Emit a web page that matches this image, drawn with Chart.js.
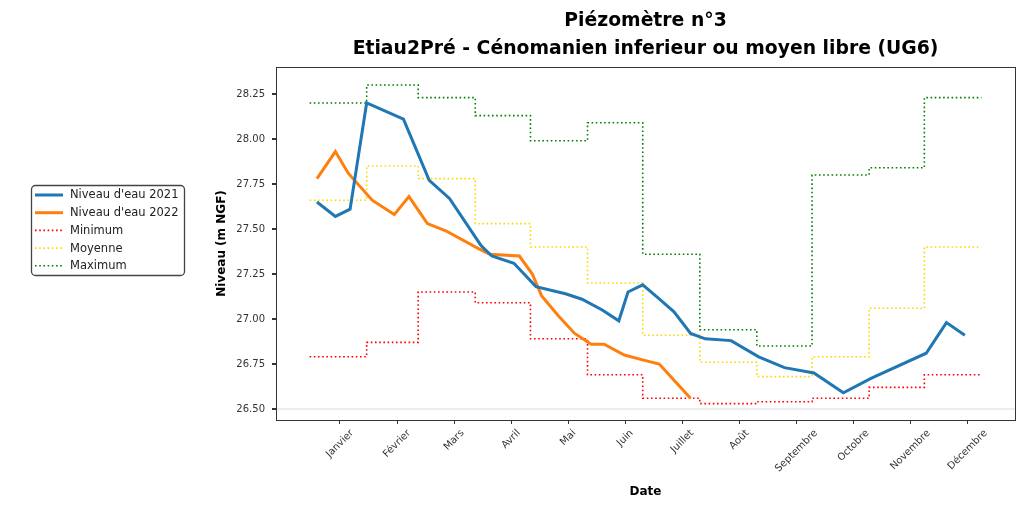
<!DOCTYPE html>
<html>
<head>
<meta charset="utf-8">
<script src="https://cdn.jsdelivr.net/npm/chart.js@4.4.0/dist/chart.umd.min.js"></script>
<style>
  body { margin: 0; background: #fff; }
  #wrap { width: 1034px; height: 508px; }
</style>
</head>
<body>
<div id="wrap"><canvas id="chart" width="1034" height="508"></canvas></div>
<script>
// day of year (1 Jan = 0)
const months = ['Janvier', 'Février', 'Mars', 'Avril', 'Mai', 'Juin', 'Juillet', 'Août',
  'Septembre', 'Octobre', 'Novembre', 'Décembre'];
const monthTicks = [16.5, 47.5, 78.5, 109.5, 140.5, 171.5, 202.5, 233.5, 264.5, 295.5, 326.5, 357.5];
const monthStarts = [0, 31, 59, 90, 120, 151, 181, 212, 243, 273, 304, 334, 365];
const levelTicks = [26.5, 26.75, 27.0, 27.25, 27.5, 27.75, 28.0, 28.25];

const days2021 = [4, 14, 22, 31, 51, 65, 76, 93, 99, 111, 123, 139, 148, 159, 168, 173, 181, 189,
  198, 207, 215, 229, 244, 258, 274, 290, 305, 335, 346, 356];
const level2021 = [27.65, 27.57, 27.61, 28.20, 28.11, 27.77, 27.67, 27.41, 27.35, 27.31, 27.18, 27.14,
  27.11, 27.05, 26.99, 27.15, 27.19, 27.12, 27.04, 26.92, 26.89, 26.88, 26.79, 26.73, 26.70, 26.59,
  26.67, 26.81, 26.98, 26.91];

const days2022 = [4, 14, 21, 34, 46, 54, 64, 74, 92, 98, 114, 121, 126, 135, 144, 153, 160, 171,
  182, 190, 198, 207];
const level2022 = [27.78, 27.93, 27.81, 27.66, 27.58, 27.68, 27.53, 27.49, 27.39, 27.36, 27.35, 27.25,
  27.13, 27.02, 26.92, 26.86, 26.86, 26.80, 26.77, 26.75, 26.66, 26.56];

// monthly values, last one repeated to close December
const minimum = [26.79, 26.87, 27.15, 27.09, 26.89, 26.69, 26.56, 26.53, 26.54, 26.56, 26.62, 26.69, 26.69];
const moyenne = [27.66, 27.85, 27.78, 27.53, 27.40, 27.20, 26.91, 26.76, 26.68, 26.79, 27.06, 27.40, 27.40];
const maximum = [28.20, 28.30, 28.23, 28.13, 27.99, 28.09, 27.36, 26.94, 26.85, 27.80, 27.84, 28.23, 28.23];

const pts = (xs, ys) => xs.map((x, i) => ({ x: x, y: ys[i] }));
const FONT = 'DejaVu Sans';

const series = [
  { label: "Niveau d'eau 2021", data: pts(days2021, level2021), borderColor: '#1f77b4', borderWidth: 3 },
  { label: "Niveau d'eau 2022", data: pts(days2022, level2022), borderColor: '#ff7f0e', borderWidth: 3 },
  { label: 'Minimum', data: pts(monthStarts, minimum), borderColor: '#ff0000', borderWidth: 1.6, borderDash: [1.6, 2.6], stepped: 'before' },
  { label: 'Moyenne', data: pts(monthStarts, moyenne), borderColor: '#ffd700', borderWidth: 1.6, borderDash: [1.6, 2.6], stepped: 'before' },
  { label: 'Maximum', data: pts(monthStarts, maximum), borderColor: '#008000', borderWidth: 1.6, borderDash: [1.6, 2.6], stepped: 'before' }
];

const decor = {
  id: 'decor',
  afterDraw(chart) {
    const { ctx, chartArea: a } = chart;
    const xs = chart.scales.x;
    ctx.save();
    // frame
    ctx.strokeStyle = '#333';
    ctx.lineWidth = 1;
    ctx.strokeRect(Math.round(a.left) + 0.5, Math.round(a.top) + 0.5,
      Math.round(a.right - a.left), Math.round(a.bottom - a.top));

    // month labels, rotated 45° and centred under the ticks
    ctx.font = '10px "' + FONT + '"';
    ctx.fillStyle = '#333';
    ctx.textAlign = 'center';
    ctx.textBaseline = 'middle';
    months.forEach((m, i) => {
      const px = xs.getPixelForValue(monthTicks[i]);
      const w = ctx.measureText(m).width;
      const side = (w + 11.5) * Math.SQRT1_2;
      ctx.save();
      ctx.translate(px, a.bottom + 7.5 + side / 2);
      ctx.rotate(-Math.PI / 4);
      ctx.fillText(m, 0, 0);
      ctx.restore();
    });

    // legend outside on the left
    const bx = 31.5, by = 185.5, bw = 153, bh = 90;
    ctx.beginPath();
    ctx.roundRect(bx, by, bw, bh, 4);
    ctx.fillStyle = '#fff';
    ctx.fill();
    ctx.strokeStyle = '#444';
    ctx.lineWidth = 1.3;
    ctx.stroke();
    ctx.font = '11.5px "' + FONT + '"';
    ctx.textAlign = 'left';
    series.forEach((s, i) => {
      const y = 195 + i * 17.7;
      ctx.beginPath();
      ctx.moveTo(35, y);
      ctx.lineTo(63, y);
      ctx.strokeStyle = s.borderColor;
      ctx.lineWidth = s.borderWidth;
      ctx.setLineDash(s.borderDash || []);
      ctx.stroke();
      ctx.setLineDash([]);
      ctx.fillStyle = '#222';
      ctx.fillText(s.label, 70, y + 0.5);
    });
    ctx.restore();
  }
};

new Chart(document.getElementById('chart'), {
  type: 'line',
  data: { datasets: series.map(s => Object.assign({ pointRadius: 0, fill: false, tension: 0 }, s)) },
  options: {
    responsive: false,
    animation: false,
    layout: { padding: { left: 200, right: 19, top: 0, bottom: 0 } },
    plugins: {
      legend: { display: false },
      tooltip: { enabled: false },
      title: {
        display: true,
        fullSize: false,
        text: ['Piézomètre n°3', 'Etiau2Pré - Cénomanien inferieur ou moyen libre (UG6)'],
        color: '#000',
        font: { family: FONT, size: 18.8, weight: 'bold', lineHeight: 1.489 },
        padding: { top: 7.5, bottom: 3.5 }
      }
    },
    scales: {
      x: {
        type: 'linear',
        min: -18.25,
        max: 383.25,
        afterBuildTicks: s => { s.ticks = monthTicks.map(v => ({ value: v })); },
        afterFit: s => { s.height = 88; },
        ticks: { display: false },
        grid: { drawOnChartArea: false, drawTicks: true, tickLength: 4, tickColor: '#333' },
        border: { display: false },
        title: {
          display: true, text: 'Date', color: '#000',
          font: { family: FONT, size: 12, weight: 'bold' },
          padding: { top: 0, bottom: 9 }
        }
      },
      y: {
        type: 'linear',
        min: 26.439,
        max: 28.40,
        afterBuildTicks: s => { s.ticks = levelTicks.map(v => ({ value: v })); },
        afterFit: s => { s.width = 76; },
        ticks: {
          callback: v => v.toFixed(2),
          color: '#333',
          padding: 7,
          font: { family: FONT, size: 10 }
        },
        grid: {
          drawOnChartArea: true,
          color: c => (c.tick && c.tick.value === 26.5) ? 'rgba(0,0,0,0.07)' : 'rgba(0,0,0,0)',
          lineWidth: 2,
          tickColor: '#333',
          tickLength: 4
        },
        border: { display: false },
        title: {
          display: true, text: 'Niveau (m NGF)', color: '#000',
          font: { family: FONT, size: 12, weight: 'bold' },
          padding: { top: 14.8, bottom: 0 }
        }
      }
    }
  },
  plugins: [decor]
});
</script>
</body>
</html>
